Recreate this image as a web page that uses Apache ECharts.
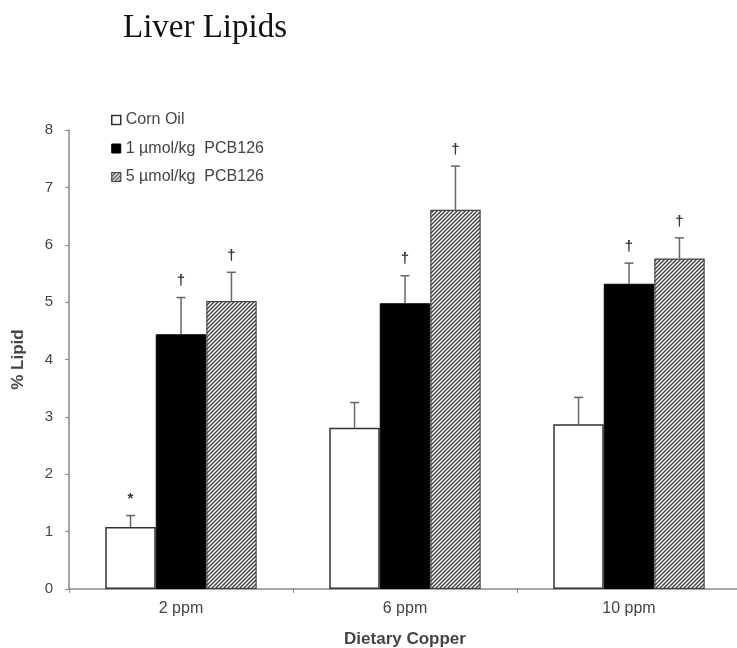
<!DOCTYPE html>
<html>
<head>
<meta charset="utf-8">
<script src="https://cdn.jsdelivr.net/npm/echarts@6/dist/echarts.min.js"></script>
<style>html,body{margin:0;padding:0;background:#fff}#c{width:737px;height:648px}</style>
</head>
<body>
<div id="c"></div>
<script>
var categories = ['2 ppm', '6 ppm', '10 ppm'];
var seriesNames = ['Corn Oil', '1 \u00b5mol/kg  PCB126', '5 \u00b5mol/kg  PCB126'];
var cornOil = [1.08, 2.81, 2.87];
var pcb1 = [4.44, 4.98, 5.32];
var pcb5 = [5.02, 6.61, 5.76];
var cornOilErr = [0.20, 0.44, 0.47];
var pcb1Err = [0.64, 0.48, 0.36];
var pcb5Err = [0.50, 0.76, 0.36];
var cornOilMark = ['*', '', ''];
var pcb1Mark = ['\u2020', '\u2020', '\u2020'];
var pcb5Mark = ['\u2020', '\u2020', '\u2020'];
var yTicks = [0, 1, 2, 3, 4, 5, 6, 7, 8];

var values = [cornOil, pcb1, pcb5];
var errs = [cornOilErr, pcb1Err, pcb5Err];
var marks = [cornOilMark, pcb1Mark, pcb5Mark];

var FONT = 'Liberation Sans, Arial, sans-serif';

// hatch pattern
var pc = document.createElement('canvas');
pc.width = 4; pc.height = 4;
var g = pc.getContext('2d');
g.fillStyle = '#ffffff'; g.fillRect(0, 0, 4, 4);
g.strokeStyle = '#3a3a3a'; g.lineWidth = 1.3;
g.beginPath();
g.moveTo(-1, 5); g.lineTo(5, -1);
g.moveTo(-1, 1); g.lineTo(1, -1);
g.moveTo(3, 5); g.lineTo(5, 3);
g.stroke();
var hatch = { image: pc, repeat: 'repeat' };

var styles = [
  { color: '#ffffff', borderColor: '#333333', borderWidth: 1.5 },
  { color: '#000000', borderColor: '#000000', borderWidth: 1 },
  { color: hatch, borderColor: '#444444', borderWidth: 1.2 }
];

var gapRatio = 0.324;
var errData = [];
for (var s = 0; s < 3; s++) {
  for (var i = 0; i < categories.length; i++) {
    errData.push([i, values[s][i], errs[s][i], s]);
  }
}

var series = [];
for (var s2 = 0; s2 < 3; s2++) {
  series.push({
    name: seriesNames[s2],
    type: 'bar',
    data: values[s2],
    barGap: '0%',
    barCategoryGap: (gapRatio * 100) + '%',
    itemStyle: styles[s2],
    emphasis: { disabled: true },
    z: 2
  });
}
series.push({
  type: 'custom',
  data: errData,
  encode: { x: 0, y: 1 },
  z: 3,
  silent: true,
  renderItem: function (params, api) {
    var ci = api.value(0), v = api.value(1), e = api.value(2), si = api.value(3);
    var base = api.coord([ci, v]);
    var top = api.coord([ci, v + e]);
    var catW = api.size([1, 0])[0];
    var barW = catW * (1 - gapRatio) / 3;
    var x = base[0] + (si - 1) * barW;
    var mark = marks[si][ci];
    var children = [
      { type: 'line', shape: { x1: x, y1: base[1], x2: x, y2: top[1] }, style: { stroke: '#666', lineWidth: 1.5 } },
      { type: 'line', shape: { x1: x - 4.5, y1: top[1], x2: x + 4.5, y2: top[1] }, style: { stroke: '#666', lineWidth: 1.5 } }
    ];
    if (mark) {
      children.push({ type: 'text', style: { text: mark, x: x, y: top[1] - 9, align: 'center', verticalAlign: 'bottom', fontSize: 15, fontWeight: 'bold', fill: '#333', fontFamily: FONT } });
    }
    return { type: 'group', children: children };
  }
});

var chart = echarts.init(document.getElementById('c'), null, { renderer: 'canvas' });
chart.setOption({
  animation: false,
  backgroundColor: '#ffffff',
  title: {
    text: 'Liver Lipids', left: 118, top: 7,
    textStyle: { fontFamily: 'Liberation Serif, serif', fontSize: 33, fontWeight: 'normal', color: '#111' }
  },
  legend: {
    orient: 'vertical', left: 111, top: 112, padding: 0,
    itemWidth: 9, itemHeight: 9, itemGap: 12.5,
    textStyle: { fontSize: 16, color: '#444', fontFamily: FONT },
    data: seriesNames.map(function (n, k) { return { name: n, icon: 'rect', itemStyle: styles[k] }; }),
    selectedMode: false
  },
  grid: { left: 69, right: -4, top: 130, bottom: 59, containLabel: false, outerBoundsMode: 'none' },
  xAxis: {
    type: 'category', data: categories,
    name: 'Dietary Copper', nameLocation: 'middle', nameGap: 42,
    nameTextStyle: { fontSize: 17, fontWeight: 'bold', color: '#444', fontFamily: FONT },
    axisLine: { lineStyle: { color: '#888', width: 1.5 } },
    axisTick: { show: true, length: 4, lineStyle: { color: '#888' } },
    axisLabel: { fontSize: 16, color: '#444', margin: 12, fontFamily: FONT }
  },
  yAxis: {
    type: 'value', min: yTicks[0], max: yTicks[yTicks.length - 1], interval: 1,
    name: '% Lipid', nameLocation: 'middle', nameGap: 42, nameRotate: 90,
    nameTextStyle: { fontSize: 17, fontWeight: 'bold', color: '#444', fontFamily: FONT },
    axisLine: { show: true, lineStyle: { color: '#888', width: 1.5 } },
    axisTick: { show: true, length: 4, lineStyle: { color: '#888' } },
    axisLabel: { fontSize: 15, color: '#444', margin: 16, fontFamily: FONT },
    splitLine: { show: false }
  },
  series: series
});
</script>
</body>
</html>
